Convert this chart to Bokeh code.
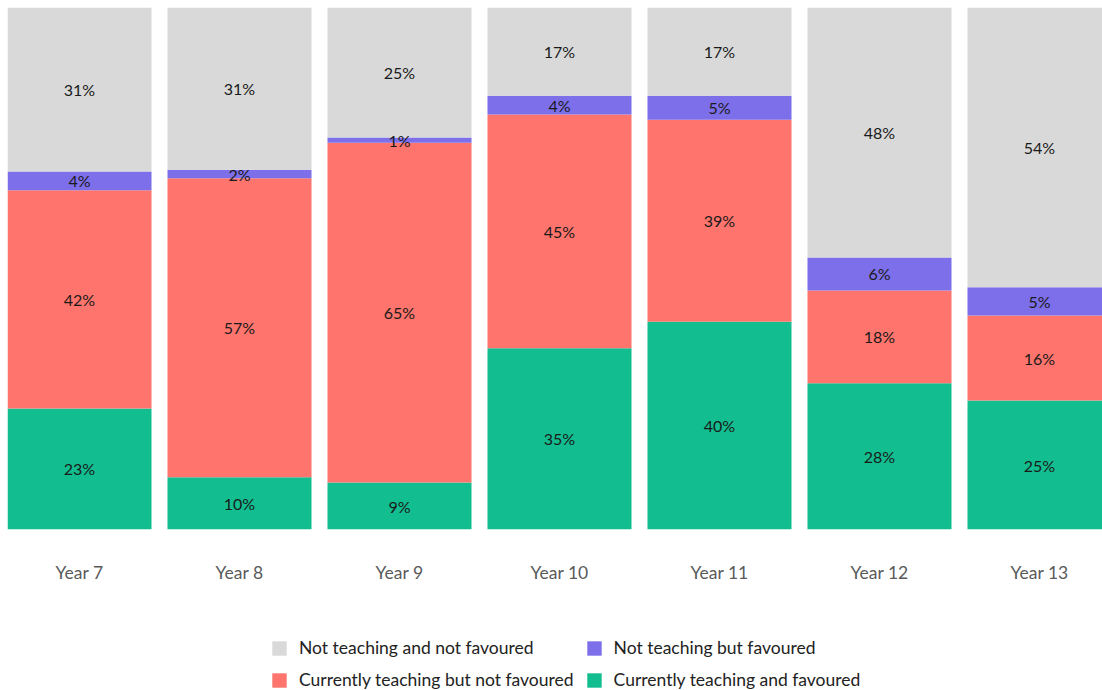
import numpy as np
from bokeh.plotting import figure
from bokeh.layouts import column
from bokeh.models import ColumnDataSource, Legend, LegendItem, FixedTicker, Range1d
from bokeh.core.properties import value
from bokeh.embed import file_html
from bokeh.resources import INLINE

years = ["Year 7", "Year 8", "Year 9", "Year 10", "Year 11", "Year 12", "Year 13"]
teach_fav = [23.2, 10.0, 9.0, 34.7, 39.8, 28.0, 24.7]
teach_notfav = [41.8, 57.3, 65.1, 44.8, 38.7, 17.8, 16.3]
notteach_fav = [3.6, 1.6, 1.0, 3.6, 4.6, 6.3, 5.4]
notteach_notfav = [31.4, 31.1, 24.9, 16.9, 16.9, 47.9, 53.6]

series_keys = ["teach_fav", "teach_notfav", "notteach_fav", "notteach_notfav"]
series_names = ["Currently teaching and favoured", "Currently teaching but not favoured",
                "Not teaching but favoured", "Not teaching and not favoured"]
colors = ["#12BE8F", "#FF746C", "#7D6FEA", "#D9D9D9"]
legend_order = ["Not teaching and not favoured", "Not teaching but favoured",
                "Currently teaching but not favoured", "Currently teaching and favoured"]

x = list(range(len(years)))
src = ColumnDataSource(dict(x=x, teach_fav=teach_fav, teach_notfav=teach_notfav,
                            notteach_fav=notteach_fav, notteach_notfav=notteach_notfav))

W = 1102
ML, MT = 7, 7
FW, FH = W - ML, 522
H1 = 610
H2 = 80
px_per_unit = 160.0
x0 = -0.45
p = figure(width=W, height=H1, output_backend="svg", toolbar_location=None,
           x_range=Range1d(x0, x0 + FW / px_per_unit), y_range=Range1d(0, 100),
           min_border_left=ML, min_border_right=0, min_border_top=MT,
           min_border_bottom=H1 - MT - FH)
p.outline_line_color = None
p.grid.grid_line_color = None
p.yaxis.visible = False

renderers = p.vbar_stack(series_keys, x="x", width=0.9, source=src, color=colors, line_color=None)

# segment labels
cols = [teach_fav, teach_notfav, notteach_fav, notteach_notfav]
lx, ly, lt = [], [], []
for i in range(len(years)):
    base = 0.0
    for c in cols:
        v = c[i]
        lx.append(i)
        ly.append(base + v / 2)
        lt.append(f"{int(round(v))}%")
        base += v
p.text(x=lx, y=ly, text=lt, text_align="center", text_baseline="middle",
       text_font=value("Lato"), text_font_size="16px", text_color="#1a1a1a")

ax = p.xaxis[0]
ax.ticker = FixedTicker(ticks=x)
ax.major_label_overrides = {i: y for i, y in enumerate(years)}
ax.axis_line_color = None
ax.major_tick_line_color = None
ax.minor_tick_line_color = None
ax.major_tick_out = 0
ax.major_tick_in = 0
ax.major_label_standoff = 32
ax.major_label_text_font = "Lato"
ax.major_label_text_font_size = "17.5px"
ax.major_label_text_color = "#5a5a5a"

# legend figure
p2 = figure(width=W, height=H2, output_backend="svg", toolbar_location=None,
            x_range=Range1d(0, 1), y_range=Range1d(0, 1),
            min_border_left=0, min_border_right=0, min_border_top=0, min_border_bottom=0)
p2.outline_line_color = None
p2.grid.grid_line_color = None
p2.xaxis.visible = False
p2.yaxis.visible = False
color_of = dict(zip(series_names, colors))
items = []
for n in legend_order:
    # hidden placeholder renderer, used only for the legend swatch
    r = p2.vbar(x=[0.5], top=[1], width=0.1, fill_color=color_of[n], line_color=None)
    r.visible = False
    items.append(LegendItem(label=n, renderers=[r]))
legend = Legend(items=items, orientation="horizontal", ncols=2, location=(263, 0),
                glyph_width=18, glyph_height=18, label_text_font="Lato",
                label_text_font_size="17.5px", label_text_color="#222222",
                border_line_color=None, background_fill_alpha=0,
                inactive_fill_alpha=0, click_policy="none",
                spacing=11, label_standoff=11, padding=0, margin=0)
p2.add_layout(legend, "center")

layout = column(p, p2, spacing=0)
open("out.html", "w").write(file_html(layout, INLINE))
